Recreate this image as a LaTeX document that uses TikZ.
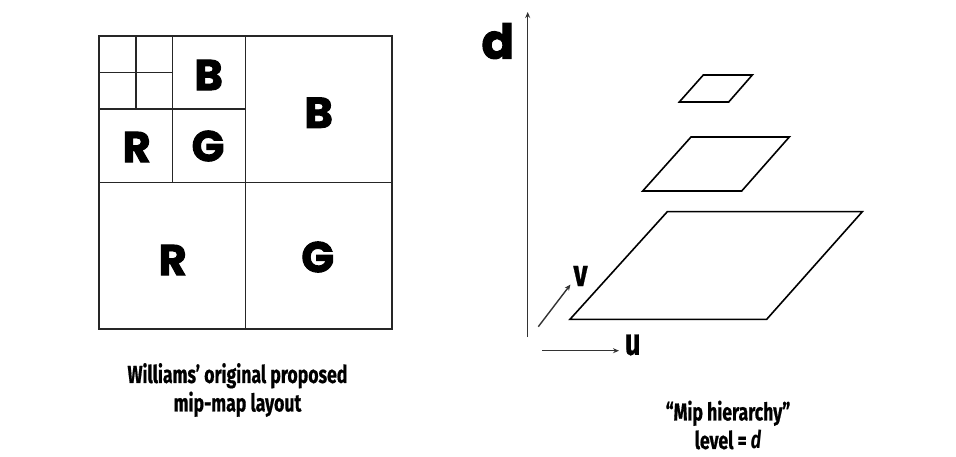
\documentclass[tikz,border=0pt]{standalone}
\usepackage{fontspec}
\usetikzlibrary{arrows.meta}
\newfontfamily\geofont{Poppins}[BoldFeatures={FakeBold=2.2}]
\newfontfamily\capfont{Fira Sans}[FakeStretch=0.72,BoldFeatures={FakeBold=0.6}]
\begin{document}
\begin{tikzpicture}[x=1pt,y=-1pt,
  gridline/.style={line width=1.6pt,draw=black!85},
  letter/.style={font=\geofont\bfseries\fontsize{43}{43}\selectfont,inner sep=0pt},
  captext/.style={font=\capfont\bfseries\fontsize{24.5}{28.5}\selectfont,align=center,inner sep=0pt},
  axislbl/.style={font=\capfont\bfseries\fontsize{38}{38}\selectfont,inner sep=0pt},
  axis/.style={line width=1.4pt,draw=black!80,-{Stealth[length=6pt,width=5pt]}},
  plane/.style={line width=1.6pt,draw=black}]
\useasboundingbox (0,0) rectangle (956,457);
% mip-map layout
\draw[gridline] (99,36) rectangle (392,329);
\draw[gridline] (245.5,36) -- (245.5,329);
\draw[gridline] (99,182.5) -- (392,182.5);
\draw[gridline] (172.3,36) -- (172.3,182.5);
\draw[gridline] (99,109.3) -- (245.5,109.3);
\draw[gridline] (136,36) -- (136,109.3);
\draw[gridline] (99,72.5) -- (172.3,72.5);
\node[letter] (b2) at (208.7,75) {B};
\node[letter] (b1) at (318.7,112.7) {B};
\node[letter] (r2) at (136.7,147) {R};
\node[letter] (g2) at (208,146) {G};
\node[letter] (r1) at (172.7,260) {R};
\node[letter] (g1) at (317.7,257) {G};
\node[captext] (cap1) at (237.5,390) {Williams’ original proposed\\mip-map layout};
% mip hierarchy
\coordinate (dbot) at (527.7,337);
\coordinate (dtop) at (527.7,12);
\draw[axis] (dbot) -- (dtop);
\node[font=\geofont\bfseries\fontsize{48}{48}\selectfont,inner sep=0pt] (dl) at (497.8,41) {d};
\coordinate (ua) at (542,350.7);
\coordinate (ub) at (619,350.7);
\draw[axis] (ua) -- (ub);
\node[axislbl] (ul) at (632.7,345) {u};
\coordinate (va) at (538.3,326.7);
\coordinate (vb) at (570.5,284.5);
\draw[axis] (va) -- (vb);
\node[axislbl] (vl) at (580.5,276) {v};
\draw[plane] (570,319.3) -- (766.7,319.3) -- (862.3,211.7) -- (667.3,211.7) -- cycle;
\draw[plane] (642.7,191) -- (741.7,191) -- (789.3,137) -- (691,137) -- cycle;
\draw[plane] (679.3,102) -- (728.7,102) -- (752.3,75) -- (703.3,75) -- cycle;
\node[captext] (cap2) at (728,425) {“Mip hierarchy”\\level\,=\,\textit{d}};
\end{tikzpicture}
\end{document}
